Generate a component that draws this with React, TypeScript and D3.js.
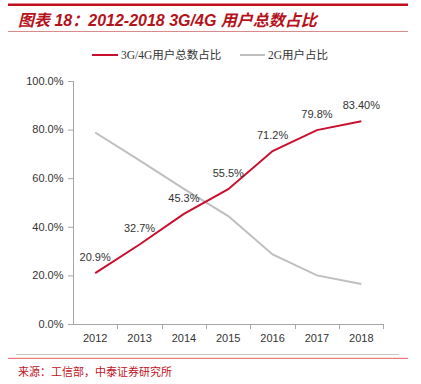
import React from "react";
import * as d3 from "d3";

const years = ["2012", "2013", "2014", "2015", "2016", "2017", "2018"];
const share34G = [20.9, 32.7, 45.3, 55.5, 71.2, 79.8, 83.4];
const labels34G = ["20.9%", "32.7%", "45.3%", "55.5%", "71.2%", "79.8%", "83.40%"];
const share2G = [78.8, 67.3, 55.6, 44.4, 28.6, 20.0, 16.5];
const yTicks = [0, 20, 40, 60, 80, 100];

const RED = "#C8102E";
const GRAY = "#BFBFBF";
const LATIN = "'Liberation Sans', Arial, sans-serif";

export default function App() {
  const W = 421, H = 384;
  const x = d3.scaleBand<string>().domain(years).range([73, 383.5]);
  const y = d3.scaleLinear().domain([0, 100]).range([324, 81]);
  const cx = (d: string) => (x(d) as number) + x.bandwidth() / 2;
  const line = d3.line<number>().x((_, i) => cx(years[i])).y((v) => y(v));

  return (
    <svg width={W} height={H} style={{ position: "absolute", left: 0, top: 0 }}>
      <rect width={W} height={H} fill="#fff" />
      {/* header */}
      <line x1={8} x2={408} y1={4.8} y2={4.8} stroke="#C0121C" strokeWidth={2.5} />
      <text x={18} y={25.5} fill="#B5121B" fontSize={16} fontWeight="bold" fontStyle="italic"
        fontFamily={"'Liberation Sans', Arial, 'Noto Sans CJK SC', sans-serif"}>
        图表 18：2012-2018 3G/4G 用户总数占比
      </text>
      <line x1={8} x2={408} y1={31.5} y2={31.5} stroke="#D98A8A" strokeWidth={1} />

      {/* legend */}
      <line x1={92} x2={118} y1={55} y2={55} stroke={RED} strokeWidth={2} />
      <text x={121} y={59} fontSize={11.5} fill="#333" fontFamily={"'Liberation Serif', 'Noto Sans CJK SC', serif"}>3G/4G用户总数占比</text>
      <line x1={240} x2={265} y1={55} y2={55} stroke={GRAY} strokeWidth={2} />
      <text x={268} y={59} fontSize={11.5} fill="#333" fontFamily={"'Liberation Serif', 'Noto Sans CJK SC', serif"}>2G用户占比</text>

      {/* y axis */}
      <line x1={73.5} x2={73.5} y1={y(100)} y2={y(0)} stroke="#A6A6A6" strokeWidth={1} />
      {yTicks.map((t) => (
        <g key={t}>
          <line x1={68} x2={73.5} y1={y(t) + 0.5} y2={y(t) + 0.5} stroke="#A6A6A6" />
          <text x={63.5} y={y(t)} dy="0.35em" textAnchor="end" fontSize={11} fill="#333" fontFamily={LATIN}>
            {t.toFixed(1) + "%"}
          </text>
        </g>
      ))}

      {/* x axis */}
      <line x1={73} x2={383.5} y1={y(0) + 0.5} y2={y(0) + 0.5} stroke="#A6A6A6" />
      {years.map((yr) => (
        <line key={"t" + yr} x1={Math.round((x(yr) as number) + x.bandwidth()) + 0.5} x2={Math.round((x(yr) as number) + x.bandwidth()) + 0.5}
          y1={y(0)} y2={y(0) + 5} stroke="#A6A6A6" />
      ))}
      {years.map((yr) => (
        <text key={"l" + yr} x={cx(yr)} y={338} dy="0.35em" textAnchor="middle" fontSize={11} fill="#333" fontFamily={LATIN}>
          {yr}
        </text>
      ))}

      {/* lines */}
      <path d={line(share2G) || ""} fill="none" stroke={GRAY} strokeWidth={2} />
      <path d={line(share34G) || ""} fill="none" stroke={RED} strokeWidth={2} />

      {share34G.map((v, i) => (
        <text key={"d" + i} x={cx(years[i])} y={y(v) - 16} dy="0.35em" textAnchor="middle" fontSize={11} fill="#333" fontFamily={LATIN}>
          {labels34G[i]}
        </text>
      ))}

      {/* footer */}
      <line x1={16} x2={399} y1={354.5} y2={354.5} stroke="#C8C8C8" strokeWidth={1} />
      <line x1={8} x2={408} y1={358.3} y2={358.3} stroke="#E06060" strokeWidth={1} />
      <text x={18} y={376} fontSize={11} fill="#C0121C" fontFamily={"'Noto Sans CJK SC', serif"}>来源：工信部，中泰证券研究所</text>
    </svg>
  );
}
